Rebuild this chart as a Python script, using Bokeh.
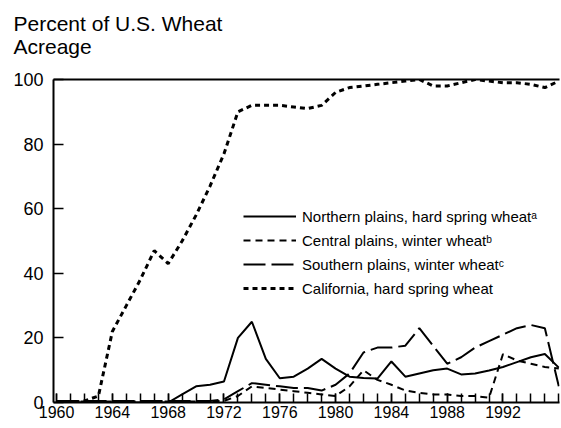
from bokeh.plotting import figure
from bokeh.models import FixedTicker, LinearAxis, Legend, LegendItem, Range1d, Title
from bokeh.embed import file_html
from bokeh.resources import INLINE

# ---- data ----
years = list(range(1960, 1997))
northern = [0, 0, 0, 0, 0, 0, 0, 0, 0, 2.5,
            5, 5.5, 6.5, 20, 25, 13.5, 7.5, 8, 10.5, 13.5,
            10.5, 8, 7.6, 7.4, 12.7, 8, 9, 10, 10.5, 8.7,
            9, 9.9, 11, 12.5, 14, 15, 10.8]
central = [0.3, 0.3, 0.3, 0.3, 0.3, 0.3, 0.3, 0.3, 0.3, 0.3,
           0.3, 0.3, 0.5, 2, 5, 4.5, 4, 3.5, 3, 2.5,
           2, 5, 10, 7, 5.5, 3.7, 3, 2.5, 2.5, 2,
           2, 1.5, 15, 13, 12, 11, 10.5]
southern = [0.5, 0.5, 0.5, 0.5, 0.5, 0.5, 0.5, 0.5, 0.5, 0.5,
            0.5, 0.5, 1, 3.5, 6, 5.5, 5, 4.5, 4.5, 3.7,
            5.5, 9, 15.5, 17, 17, 17.6, 23, 17.5, 12, 14,
            17, 19, 21, 23, 24, 23, 5]
california = [0, 0, 0.5, 2, 22, 30, 38, 47, 43, 50,
              58, 67, 77, 90, 92, 92, 92, 91.5, 91, 92,
              96, 97.5, 98, 98.5, 99, 99.5, 100, 98, 98, 99,
              100, 99.5, 99, 99, 98.5, 97.5, 99.5]

series_labels = ["Northern plains, hard spring wheat\u1d43",
                 "Central plains, winter wheat\u1d47",
                 "Southern plains, winter wheat\u1d9c",
                 "California, hard spring wheat"]
x_label_years = [1960, 1964, 1968, 1972, 1976, 1980, 1984, 1988, 1992]
x_minor_years = list(range(1960, 1997))
y_ticks = [0, 20, 40, 60, 80, 100]
title_lines = ["Percent of U.S. Wheat", "Acreage"]

FONT = "Liberation Sans"

p = figure(width=561, height=428, output_backend="svg", toolbar_location=None,
           title=title_lines[0],
           x_range=Range1d(1959.78, 1996.05), y_range=Range1d(0, 100),
           min_border_left=53, min_border_right=2, min_border_top=79, min_border_bottom=26)
p.xgrid.visible = False
p.ygrid.visible = False
p.outline_line_color = None
p.background_fill_color = "white"
p.border_fill_color = "white"

p.title.align = "left"
p.title.offset = -40
p.title.standoff = 0
p.title.text_font = FONT
p.title.text_font_size = "21px"
p.title.text_font_style = "normal"
p.title.text_color = "black"

r_n = p.line(years, northern, line_color="black", line_width=2)
r_c = p.line(years, central, line_color="black", line_width=2, line_dash="7 5")
r_s = p.line(years, southern, line_color="black", line_width=2, line_dash="22 6")
r_ca = p.line(years, california, line_color="black", line_width=3, line_dash="5 4")

xa = p.xaxis[0]
xa.ticker = FixedTicker(ticks=x_label_years, minor_ticks=x_minor_years)
xa.major_tick_in = 9
xa.major_tick_out = 0
xa.minor_tick_in = 9
xa.minor_tick_out = 0
xa.axis_line_width = 2
xa.axis_line_color = "black"
xa.major_tick_line_width = 1.5
xa.minor_tick_line_width = 1.5
xa.major_tick_line_color = "black"
xa.minor_tick_line_color = "black"
xa.major_label_text_font = FONT
xa.major_label_text_font_size = "16px"
xa.major_label_text_color = "black"
xa.major_label_standoff = 3

ya = p.yaxis[0]
ya.ticker = FixedTicker(ticks=y_ticks)
ya.major_tick_in = 10
ya.major_tick_out = 0
ya.minor_tick_line_color = None
ya.axis_line_width = 2
ya.axis_line_color = "black"
ya.major_tick_line_width = 1.5
ya.major_tick_line_color = "black"
ya.major_label_text_font = FONT
ya.major_label_text_font_size = "18px"
ya.major_label_text_color = "black"
ya.major_label_standoff = 10

top = LinearAxis(ticker=FixedTicker(ticks=[]), major_label_text_font_size="0px",
                 major_tick_line_color=None, minor_tick_line_color=None,
                 axis_line_width=2, axis_line_color="black",
                 major_tick_in=0, major_tick_out=0, major_label_standoff=0)
p.add_layout(top, "above")
# empty spacer between the frame and the second title line
p.add_layout(Title(text=" ", text_font_size="2px", standoff=19), "above")
p.add_layout(Title(text=title_lines[1], align="left", offset=-40, standoff=-3,
                   text_font=FONT, text_font_size="21px", text_font_style="normal",
                   text_color="black"), "above")

legend = Legend(items=[LegendItem(label=series_labels[0], renderers=[r_n]),
                       LegendItem(label=series_labels[1], renderers=[r_c]),
                       LegendItem(label=series_labels[2], renderers=[r_s]),
                       LegendItem(label=series_labels[3], renderers=[r_ca])],
                location=(190, 104), border_line_color=None, background_fill_alpha=0,
                padding=0, margin=0, spacing=4, glyph_width=53, glyph_height=20,
                label_height=20, label_standoff=6, label_text_font=FONT,
                label_text_font_size="15px", label_text_color="black")
p.add_layout(legend)

open("out.html", "w").write(file_html(p, INLINE))
